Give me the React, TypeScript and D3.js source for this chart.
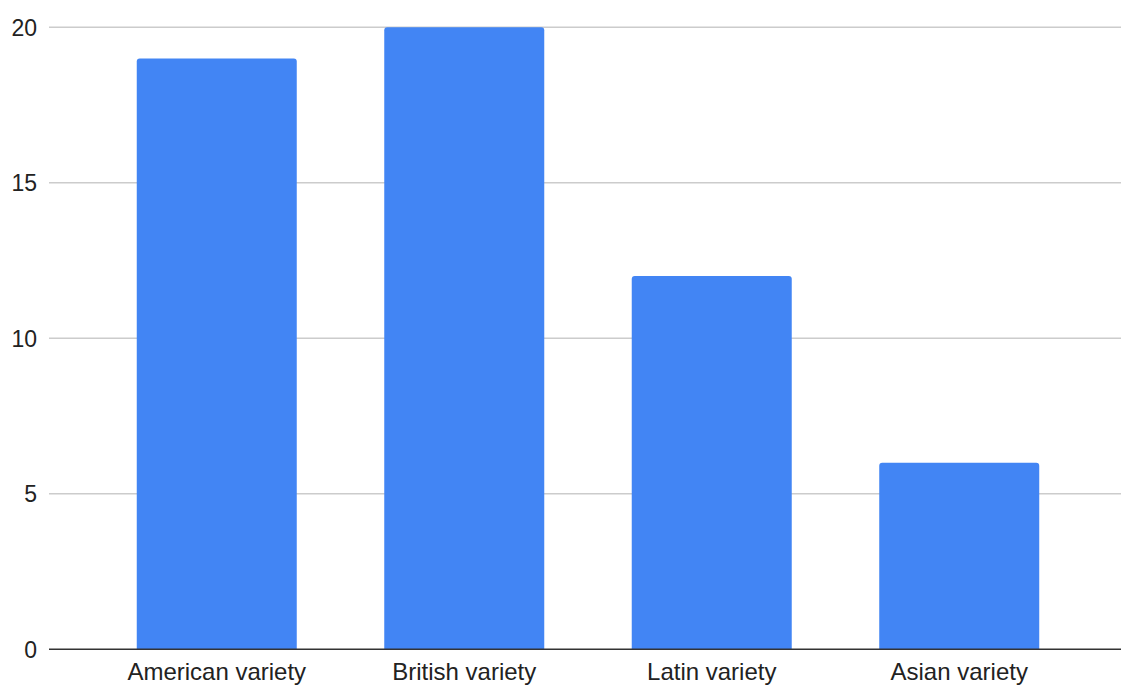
import React from "react";
import * as d3 from "d3";

const categories = ["American variety", "British variety", "Latin variety", "Asian variety"];
const values = [19, 20, 12, 6];
const yTicks = [0, 5, 10, 15, 20];

const W = 1121;
const H = 686;

export default function App() {
  const y = d3.scaleLinear().domain([0, 20]).range([649.3, 27.3]);
  const x = d3
    .scaleBand<string>()
    .domain(categories)
    .range([93, 1083])
    .paddingInner(0.3535)
    .paddingOuter(0.1768);
  const gridX0 = 49;
  const gridX1 = 1121;
  const r = 3;
  const barPath = (x0: number, y0: number, w: number, yb: number) => {
    const rr = Math.min(r, (yb - y0) / 2);
    return `M${x0},${yb}V${y0 + rr}Q${x0},${y0} ${x0 + rr},${y0}H${x0 + w - rr}Q${x0 + w},${y0} ${x0 + w},${y0 + rr}V${yb}Z`;
  };
  return (
    <svg
      width={W}
      height={H}
      style={{ position: "absolute", left: 0, top: 0, background: "#fff" }}
      fontFamily="Arial, 'Liberation Sans', sans-serif"
    >
      {yTicks.map((t) =>
        t === 0 ? null : (
          <line key={t} x1={gridX0} x2={gridX1} y1={y(t)} y2={y(t)} stroke="#cccccc" strokeWidth={1.5} />
        )
      )}
      {yTicks.map((t) => (
        <text key={"l" + t} x={37} y={y(t)} dy="0.36em" textAnchor="end" fontSize={23} fill="#222">
          {t}
        </text>
      ))}
      {categories.map((c, i) => (
        <path key={c} d={barPath(x(c)!, y(values[i]), x.bandwidth(), y(0))} fill="#4285F4" />
      ))}
      <line x1={gridX0} x2={gridX1} y1={y(0)} y2={y(0)} stroke="#333" strokeWidth={1.5} />
      {categories.map((c) => (
        <text key={"c" + c} x={x(c)! + x.bandwidth() / 2} y={680} textAnchor="middle" fontSize={24} fill="#222">
          {c}
        </text>
      ))}
    </svg>
  );
}
